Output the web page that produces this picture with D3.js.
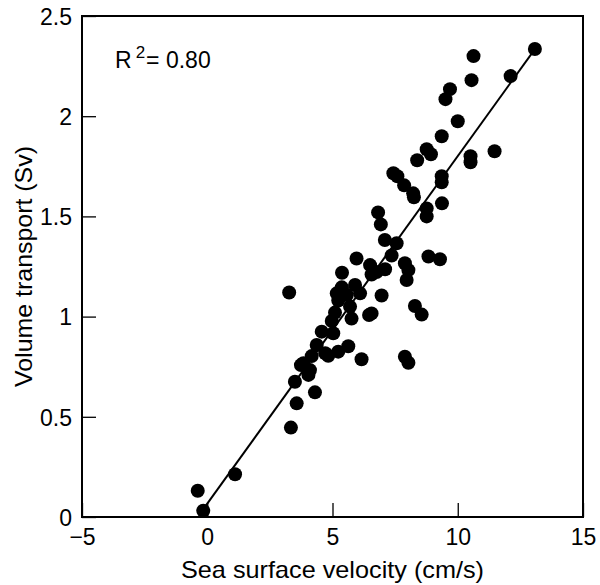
<!DOCTYPE html>
<html>
<head>
<meta charset="utf-8">
<script src="https://cdn.jsdelivr.net/npm/d3@7"></script>
<style>
  body { margin: 0; background: #fff; }
  svg text { font-family: "Liberation Sans", Arial, sans-serif; fill: #000; }
</style>
</head>
<body>
<div id="chart"></div>
<script>
// sea surface velocity (cm/s) vs volume transport (Sv)
const velocity = [
  13.08, 10.63, 10.55, 12.11, 9.69, 9.51, 10.0, 9.36, 8.76, 8.93,
  8.38, 10.51, 10.51, 11.47, 7.43, 7.59, 7.86, 8.22, 8.25, 9.36,
  9.36, 9.37, 8.76, 8.76, 6.82, 6.93, 7.09, 7.56, 7.36, 5.96,
  6.5, 6.76, 7.1, 7.89, 8.03, 7.96, 8.83, 9.29, 5.38, 6.96,
  8.29, 8.56, 6.56, 6.46, 5.76, 5.63, 6.16, 7.89, 8.03, 4.30,
  3.27, 3.74, 3.5, 3.57, 3.34, 1.11, -0.38, -0.16, 5.37, 5.9,
  6.10, 5.17, 5.57, 5.23, 5.7, 5.10, 4.97, 4.57, 5.03, 4.37,
  4.71, 5.23, 4.83, 4.17, 3.84, 4.1, 4.04, 6.56, 5.37
];
const transport = [
  2.335, 2.30, 2.18, 2.20, 2.135, 2.085, 1.975, 1.90, 1.835, 1.81,
  1.78, 1.80, 1.77, 1.825, 1.715, 1.70, 1.655, 1.615, 1.595, 1.70,
  1.67, 1.565, 1.54, 1.50, 1.52, 1.46, 1.382, 1.366, 1.305, 1.29,
  1.257, 1.222, 1.236, 1.266, 1.232, 1.183, 1.30, 1.286, 1.219, 1.105,
  1.053, 1.01, 1.016, 1.008, 0.99, 0.852, 0.787, 0.80, 0.77, 0.622,
  1.12, 0.758, 0.675, 0.567, 0.446, 0.213, 0.131, 0.031, 1.146, 1.158,
  1.116, 1.116, 1.108, 1.08, 1.05, 1.02, 0.978, 0.925, 0.917, 0.858,
  0.817, 0.825, 0.805, 0.803, 0.767, 0.733, 0.709, 1.21, 1.14
];
// regression line: y = slope * x + intercept, drawn between fitX
const slope = 0.1734;
const intercept = 0.067;
const fitX = [-0.1, 13.08];
const rSquared = "0.80";

const xTicks = [-5, 0, 5, 10, 15];
const yTicks = [0, 0.5, 1, 1.5, 2, 2.5];

const W = 600, H = 585;
const margin = { top: 16, right: 17, bottom: 68, left: 82 };
const width = W - margin.left - margin.right;
const height = H - margin.top - margin.bottom;

const svg = d3.select("#chart").append("svg")
  .attr("width", W).attr("height", H);
const g = svg.append("g")
  .attr("transform", "translate(" + margin.left + "," + margin.top + ")");

const x = d3.scaleLinear().domain([-5, 15]).range([0, width]);
const y = d3.scaleLinear().domain([0, 2.5]).range([height, 0]);

// inward ticks
const xAxis = g.append("g")
  .attr("transform", "translate(0," + height + ")")
  .call(d3.axisBottom(x).tickValues(xTicks).tickSizeInner(-14).tickSizeOuter(0)
    .tickPadding(12).tickFormat(d => d < 0 ? "\u2212" + Math.abs(d) : d));
const yAxis = g.append("g")
  .call(d3.axisLeft(y).tickValues(yTicks).tickSizeInner(-14).tickSizeOuter(0)
    .tickPadding(10).tickFormat(d => d));

[xAxis, yAxis].forEach(a => {
  a.select(".domain").remove();
  a.selectAll(".tick line").attr("stroke", "#000").attr("stroke-width", 1.3);
  a.selectAll(".tick text").style("font-size", "23px");
});
xAxis.selectAll(".tick text").attr("dy", "0.71em");
yAxis.selectAll(".tick text").attr("dy", "0.36em");

// frame
g.append("rect")
  .attr("width", width).attr("height", height)
  .attr("fill", "none").attr("stroke", "#000").attr("stroke-width", 2);

// fit line
g.append("line")
  .attr("x1", x(fitX[0])).attr("y1", y(slope * fitX[0] + intercept))
  .attr("x2", x(fitX[1])).attr("y2", y(slope * fitX[1] + intercept))
  .attr("stroke", "#000").attr("stroke-width", 2);

// points
g.selectAll("circle.pt")
  .data(velocity.map((v, i) => [v, transport[i]]))
  .enter().append("circle")
  .attr("class", "pt")
  .attr("cx", d => x(d[0]))
  .attr("cy", d => y(d[1]))
  .attr("r", 7)
  .attr("fill", "#000");

// R^2 note
const note = g.append("text")
  .attr("x", 33).attr("y", 52)
  .style("font-size", "23px");
note.append("tspan").text("R");
note.append("tspan").attr("dy", -10).attr("dx", 4).style("font-size", "17px").text("2");
note.append("tspan").attr("dy", 10).attr("dx", 1).text("= " + rSquared);

// axis titles
svg.append("text")
  .attr("x", margin.left + width / 2).attr("y", 578)
  .attr("text-anchor", "middle")
  .style("font-size", "24px")
  .attr("textLength", 303).attr("lengthAdjust", "spacingAndGlyphs")
  .text("Sea surface velocity (cm/s)");

svg.append("text")
  .attr("transform", "translate(32," + (margin.top + height / 2) + ") rotate(-90)")
  .attr("text-anchor", "middle")
  .style("font-size", "24px")
  .attr("textLength", 241).attr("lengthAdjust", "spacingAndGlyphs")
  .text("Volume transport (Sv)");
</script>
</body>
</html>
